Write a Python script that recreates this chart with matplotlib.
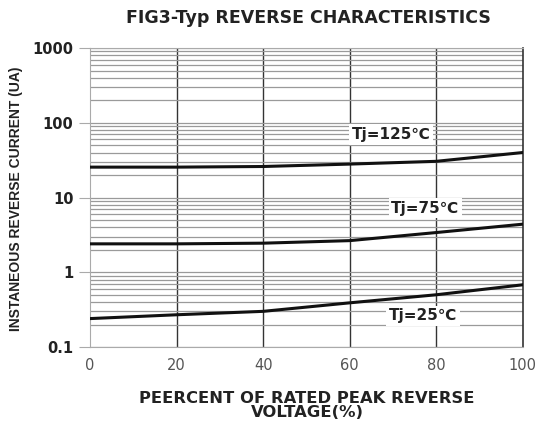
import numpy as np
import matplotlib.pyplot as plt
from matplotlib.ticker import FixedLocator, NullFormatter

plt.rcParams['font.family'] = ['DejaVu Sans']

# data
voltage_pct = [0, 20, 40, 60, 80, 100]
i_125 = [25.5, 25.5, 26.0, 28.0, 30.5, 40.0]
i_75 = [2.4, 2.4, 2.45, 2.65, 3.4, 4.4]
i_25 = [0.24, 0.27, 0.30, 0.39, 0.50, 0.68]

curves = [
    (i_125, 'Tj=125℃', 69.5, 70),
    (i_75, 'Tj=75℃', 77.5, 7.2),
    (i_25, 'Tj=25℃', 77, 0.26),
]

x_ticks = [0, 20, 40, 60, 80, 100]
y_ticks = [0.1, 1, 10, 100, 1000]
y_labels = ['0.1', '1', '10', '100', '1000']

fig = plt.figure(figsize=(5.39, 4.25), dpi=100)
ax = fig.add_axes([0.167, 0.1835, 0.803, 0.7035])
ax.set_yscale('log')
ax.set_xlim(0, 100)
ax.set_ylim(0.1, 1000)

# grid
minor = [m * 10.0 ** d for d in range(-1, 3) for m in range(2, 10)]
ax.yaxis.set_minor_locator(FixedLocator(minor))
ax.yaxis.set_minor_formatter(NullFormatter())
ax.grid(True, which='minor', axis='y', color='#9a9a9a', lw=0.9)
ax.grid(True, which='major', axis='y', color='#9a9a9a', lw=0.9)
for xv in x_ticks[1:-1]:
    ax.axvline(xv, color='#333333', lw=1.0, zorder=1)

for s in ['left', 'bottom', 'top']:
    ax.spines[s].set_color('#aaaaaa')
ax.spines['right'].set_color('#333333')
ax.spines['right'].set_linewidth(1.2)

ax.set_xticks(x_ticks)
ax.set_xticklabels([str(v) for v in x_ticks], fontsize=10.5, color='#555555')
ax.set_yticks(y_ticks)
ax.set_yticklabels(y_labels, fontsize=10.5, fontweight='bold', color='#222222')
ax.tick_params(axis='y', which='major', length=8, color='#aaaaaa', pad=4)
ax.tick_params(axis='y', which='minor', length=0)
ax.tick_params(axis='x', length=0, pad=8)

for vals, label, lx, ly in curves:
    ax.plot(voltage_pct, vals, color='#111111', lw=2.2, zorder=3)
    ax.text(lx, ly, label, fontsize=11, fontweight='bold', color='#222222',
            ha='center', va='center', zorder=4,
            bbox=dict(facecolor='white', edgecolor='none', pad=2))

fig.text(0.573, 0.958, 'FIG3-Typ REVERSE CHARACTERISTICS', ha='center', va='center',
         fontsize=12.5, fontweight='bold', color='#222222')
fig.text(0.57, 0.046, 'PEERCENT OF RATED PEAK REVERSE\nVOLTAGE(%)', ha='center',
         va='center', fontsize=11.8, fontweight='bold', color='#222222', linespacing=0.95)
fig.text(0.03, 0.532, 'INSTANEOUS REVERSE CURRENT (UA)', rotation=90, ha='center',
         va='center', fontsize=10, fontweight='bold', color='#222222',
         family=['Liberation Sans Narrow', 'Liberation Sans'])

fig.savefig('out.png', dpi=100)
